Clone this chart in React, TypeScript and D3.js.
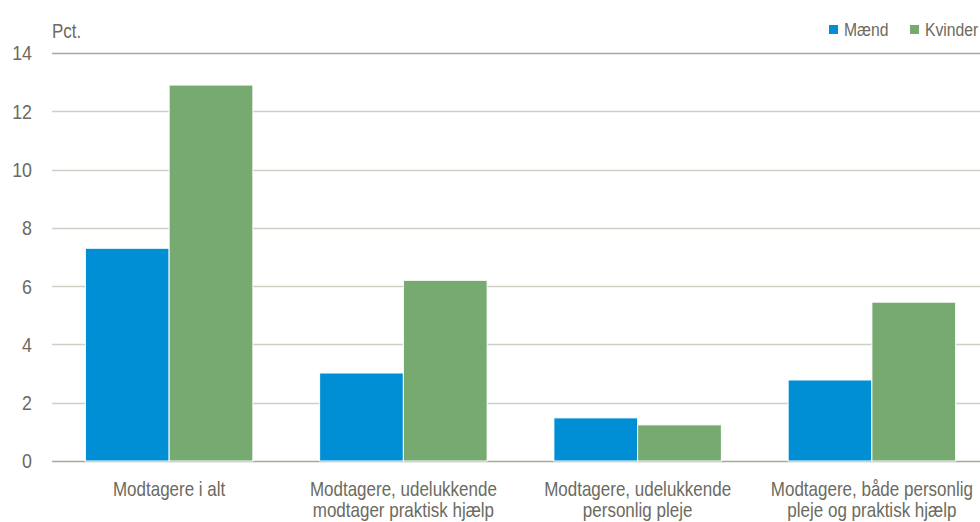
import { useEffect, useRef } from "react";
import * as d3 from "d3";

const categories = [
  ["Modtagere i alt"],
  ["Modtagere, udelukkende", "modtager praktisk hjælp"],
  ["Modtagere, udelukkende", "personlig pleje"],
  ["Modtagere, både personlig", "pleje og praktisk hjælp"],
];
const series = ["Mænd", "Kvinder"];
const maendValues = [7.3, 3.02, 1.48, 2.78];
const kvinderValues = [12.9, 6.2, 1.24, 5.45];
const yTicks = [0, 2, 4, 6, 8, 10, 12, 14];
const colors = ["#008fd5", "#77aa71"];

const App = () => {
  const svgRef = useRef<SVGSVGElement>(null);

  useEffect(() => {
    if (!svgRef.current) return;
    const width = 980;
    const height = 522;
    const svg = d3.select(svgRef.current);
    svg.selectAll("*").remove();
    svg.attr("width", width).attr("height", height).style("background", "#fff");

    const left = 52;
    const right = 989;
    const top = 53;
    const bottom = 461;
    const textColor = "#6b6b5f";
    const font = "'Liberation Sans', Arial, sans-serif";
    const sx = 0.85; // the reference uses a narrow face

    const x = d3.scaleBand<number>().domain(d3.range(categories.length)).range([left, right]).paddingInner(0.285).paddingOuter(0.1425);
    const inner = d3.scaleBand<number>().domain([0, 1]).range([0, x.bandwidth()]);
    const y = d3.scaleLinear().domain([0, 14]).range([bottom, top]);

    const label = (px: number, py: number, size: number, anchor = "start") =>
      svg.append("text")
        .attr("transform", `translate(${px},${py}) scale(${sx},1)`)
        .attr("text-anchor", anchor)
        .attr("fill", textColor)
        .attr("font-family", font)
        .attr("font-size", size);

    // gridlines
    svg.append("g")
      .selectAll("line")
      .data(yTicks)
      .enter()
      .append("line")
      .attr("x1", left)
      .attr("x2", width)
      .attr("y1", (d) => Math.round(y(d)) + 0.5)
      .attr("y2", (d) => Math.round(y(d)) + 0.5)
      .attr("stroke", (d) => (d === 14 || d === 0 ? "#a8a89a" : "#cfcfc6"))
      .attr("stroke-width", 1.5);

    // tick labels
    yTicks.forEach((t) => {
      label(32, y(t), 21, "end").attr("dy", "0.35em").text(t);
    });

    label(52, 38, 20).text("Pct.");

    // bars
    const seriesData = [maendValues, kvinderValues];
    seriesData.forEach((vals, s) => {
      svg.append("g")
        .selectAll("rect")
        .data(vals)
        .enter()
        .append("rect")
        .attr("x", (_, i) => (x(i) as number) + (inner(s) as number))
        .attr("y", (d) => y(d))
        .attr("width", inner.bandwidth())
        .attr("height", (d) => bottom - y(d))
        .attr("fill", colors[s])
        .attr("stroke", "#fff")
        .attr("stroke-width", 1);
    });

    // category labels
    categories.forEach((lines, i) => {
      const t = label((x(i) as number) + x.bandwidth() / 2, 496, 20, "middle");
      lines.forEach((l, j) => {
        t.append("tspan")
          .attr("x", 0)
          .attr("dy", j === 0 ? 0 : 21)
          .text(l);
      });
    });

    // legend
    const legendX = [829, 910];
    series.forEach((name, s) => {
      svg.append("rect")
        .attr("x", legendX[s])
        .attr("y", 25)
        .attr("width", 9)
        .attr("height", 9)
        .attr("fill", colors[s]);
      label(legendX[s] + 15, 36, 18.5).text(name);
    });
  }, []);

  return <svg ref={svgRef} style={{ position: "absolute", left: 0, top: 0, display: "block" }} />;
};

export default App;
